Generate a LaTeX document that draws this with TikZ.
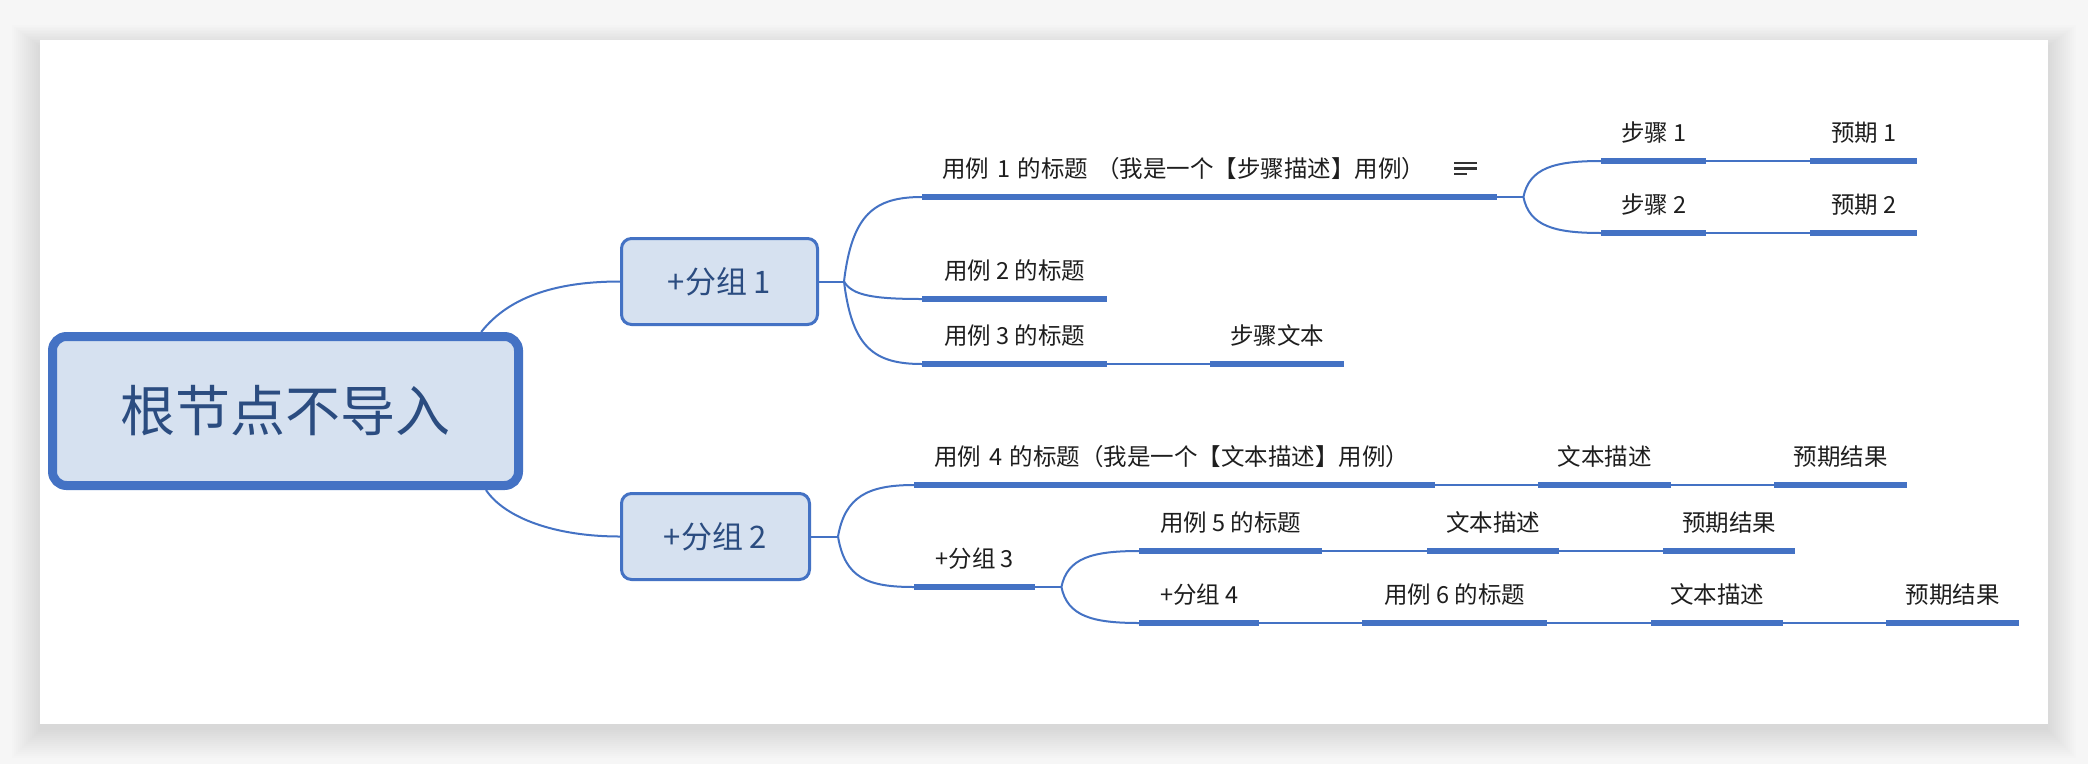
\documentclass[tikz,border=0pt]{standalone}
\usepackage{fontspec}
\setmainfont{Noto Sans CJK SC}
\usetikzlibrary{calc}
\definecolor{linecol}{HTML}{4472C4}
\definecolor{nodefill}{HTML}{D6E1F0}
\definecolor{navytext}{HTML}{2B4C80}
\definecolor{leaftext}{HTML}{1E1E1E}
\definecolor{bggray}{HTML}{F6F6F6}
\definecolor{icongray}{HTML}{333333}
\newcommand\leaffont{\fontsize{23.5}{28}\selectfont}
\newcommand\grpfont{\fontsize{31}{36}\selectfont}
\newcommand\rootfont{\fontsize{55}{62}\selectfont}
\tikzset{
  conn/.style={draw=linecol, line width=2pt},
  uline/.style={draw=linecol, line width=5.5pt, line cap=butt},
  leaf/.style={anchor=south west, inner sep=0pt, minimum height=56pt, align=center, font=\leaffont, text=leaftext},
  leafl/.style={leaf, inner xsep=20pt, align=left},
  grpbox/.style={draw=linecol, line width=3pt, fill=nodefill, rounded corners=10pt, inner sep=0pt, minimum height=86pt, font=\grpfont, text=navytext},
  rootbox/.style={draw=linecol, line width=9pt, fill=nodefill, rounded corners=14pt, inner sep=0pt, minimum width=466pt, minimum height=149pt, font=\rootfont, text=navytext},
  iconline/.style={draw=icongray, line width=2.5pt},
}
\begin{document}
\begin{tikzpicture}[x=1pt,y=-1pt]
% background and card with shadow
\fill[bggray] (0,0) rectangle (2088,764);
\useasboundingbox (0,0) rectangle (2088,764);
\foreach \i in {0,...,14}{
  \fill[black,opacity=0.006] ({40-2*\i},{46-1.5*\i}) rectangle ({2048+2*\i},{730+2*\i});
}
\fill[white] (40,40) rectangle (2048,724);

% root and groups
\node[rootbox] (root) at (285.5,411) {根节点不导入};
\node[grpbox, minimum width=196pt] (g1) at (719.5,281.5) {+分组 1};
\node[grpbox, minimum width=188pt] (g2) at (715.5,536.5) {+分组 2};

% group 1 leaves
\node[leafl, text width=535pt] (c1) at (922,197) {用例 1 的标题 （我是一个【步骤描述】用例）};
\node[leaf, minimum width=105pt] (s1) at (1601,161) {步骤 1};
\node[leaf, minimum width=107pt] (e1) at (1810,161) {预期 1};
\node[leaf, minimum width=105pt] (s2) at (1601,233) {步骤 2};
\node[leaf, minimum width=107pt] (e2) at (1810,233) {预期 2};
\node[leaf, minimum width=185pt] (c2) at (922,299) {用例 2 的标题};
\node[leaf, minimum width=185pt] (c3) at (922,364) {用例 3 的标题};
\node[leaf, minimum width=134pt] (t3) at (1210,364) {步骤文本};

% group 2 leaves
\node[leafl, text width=481pt] (c4) at (914,485) {用例 4 的标题（我是一个【文本描述】用例）};
\node[leaf, minimum width=133pt] (d4) at (1538,485) {文本描述};
\node[leaf, minimum width=133pt] (r4) at (1774,485) {预期结果};
\node[leaf, minimum width=121pt] (g3) at (914,587) {+分组 3};
\node[leaf, minimum width=183pt] (c5) at (1139,551) {用例 5 的标题};
\node[leaf, minimum width=132pt] (d5) at (1427,551) {文本描述};
\node[leaf, minimum width=132pt] (r5) at (1663,551) {预期结果};
\node[leaf, minimum width=120pt] (g4) at (1139,623) {+分组 4};
\node[leaf, minimum width=185pt] (c6) at (1362,623) {用例 6 的标题};
\node[leaf, minimum width=132pt] (d6) at (1651,623) {文本描述};
\node[leaf, minimum width=133pt] (r6) at (1886,623) {预期结果};

% note icon of c1
\draw[iconline] ([shift={(-43,-34)}]c1.south east) -- ++(23,0);
\draw[iconline] ([shift={(-43,-28.5)}]c1.south east) -- ++(23,0);
\draw[iconline] ([shift={(-43,-23)}]c1.south east) -- ++(13,0);

% underlines
\foreach \n in {c1,s1,e1,s2,e2,c2,c3,t3,c4,d4,r4,g3,c5,d5,r5,g4,c6,d6,r6}{
  \draw[uline] (\n.south west) -- (\n.south east);
}

% fork points
\coordinate (f1) at ($(g1.east)+(25,0)$);
\coordinate (f1b) at ($(c1.south east)+(26,0)$);
\coordinate (f2) at ($(g2.east)+(27,0)$);
\coordinate (f3) at ($(g3.south east)+(26,0)$);
\coordinate (rt) at ($(root.north west)!0.912!(root.north east)$);
\coordinate (rb) at ($(root.south west)!0.922!(root.south east)$);

% root connectors
\draw[conn] (rt) .. controls +(29,-37) and +(-60,0) .. (g1.west);
\draw[conn] (rb) .. controls +(19,28) and +(-65,0) .. (g2.west);

% group 1 connectors
\draw[conn] (g1.east) -- (f1);
\draw[conn] (f1) .. controls +(8,-67) and +(-48,0) .. (c1.south west);
\draw[conn] (f1) .. controls +(8,14) and +(-48,0) .. (c2.south west);
\draw[conn] (f1) .. controls +(8,66) and +(-48,0) .. (c3.south west);
\draw[conn] (c1.south east) -- (f1b);
\draw[conn] (f1b) .. controls +(6,-29) and +(-47,0) .. (s1.south west);
\draw[conn] (f1b) .. controls +(6,29) and +(-47,0) .. (s2.south west);
\draw[conn] (s1.south east) -- (e1.south west);
\draw[conn] (s2.south east) -- (e2.south west);
\draw[conn] (c3.south east) -- (t3.south west);

% group 2 connectors
\draw[conn] (g2.east) -- (f2);
\draw[conn] (f2) .. controls +(7,-40) and +(-46,0) .. (c4.south west);
\draw[conn] (f2) .. controls +(7,42) and +(-46,0) .. (g3.south west);
\draw[conn] (c4.south east) -- (d4.south west);
\draw[conn] (d4.south east) -- (r4.south west);
\draw[conn] (g3.south east) -- (f3);
\draw[conn] (f3) .. controls +(6,-29) and +(-47,0) .. (c5.south west);
\draw[conn] (f3) .. controls +(6,29) and +(-47,0) .. (g4.south west);
\draw[conn] (c5.south east) -- (d5.south west);
\draw[conn] (d5.south east) -- (r5.south west);
\draw[conn] (g4.south east) -- (c6.south west);
\draw[conn] (c6.south east) -- (d6.south west);
\draw[conn] (d6.south east) -- (r6.south west);
\end{tikzpicture}
\end{document}
